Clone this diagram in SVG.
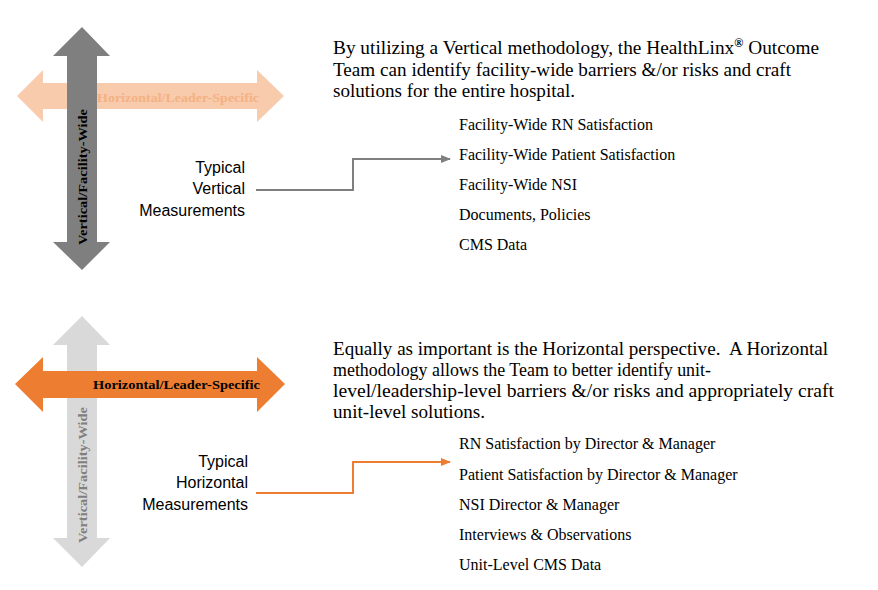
<svg xmlns="http://www.w3.org/2000/svg" width="878" height="590" viewBox="0 0 878 590">
<style>
.para{font-family:"Liberation Serif","Times New Roman",serif;font-size:19px;fill:#000;white-space:pre}
.item{font-family:"Liberation Serif","Times New Roman",serif;font-size:16px;fill:#000}
.lab{font-family:"Liberation Sans",Arial,sans-serif;font-size:16px;fill:#000;text-anchor:end}
.arrlab{font-family:"Liberation Serif","Times New Roman",serif;font-size:13px;font-weight:bold}
.conn{fill:none;stroke-width:2}
</style>
<defs>
<marker id="ag" markerWidth="10" markerHeight="10" refX="9" refY="5" orient="auto" markerUnits="userSpaceOnUse"><path d="M0,1 L10,5 L0,9 z" fill="#7f7f7f"/></marker>
<marker id="ao" markerWidth="10" markerHeight="10" refX="9" refY="5" orient="auto" markerUnits="userSpaceOnUse"><path d="M0,1 L10,5 L0,9 z" fill="#ed7d31"/></marker>
</defs>
<rect width="878" height="590" fill="#fff"/>
<g id="top-cross">
<polygon points="17,96 43,70 43,83 257,83 257,70 284,96 257,122 257,109 43,109 43,122" fill="#f8cbad"/>
<text class="arrlab" x="97" y="102" fill="#f4b183" textLength="162" lengthAdjust="spacingAndGlyphs">Horizontal/Leader-Specific</text>
<polygon points="82,27 110,56 97,56 97,242 110,242 82,270 53,242 67,242 67,56 53,56" fill="#7f7f7f"/>
<text class="arrlab" transform="translate(87,177) rotate(-90)" text-anchor="middle" fill="#000" textLength="136" lengthAdjust="spacingAndGlyphs">Vertical/Facility-Wide</text>
</g>
<g id="top-label">
<text class="lab" x="245" y="173">Typical</text>
<text class="lab" x="245" y="194">Vertical</text>
<text class="lab" x="245" y="216">Measurements</text>
</g>
<g id="top-para">
<text class="para" x="333" y="54" textLength="486" lengthAdjust="spacingAndGlyphs">By utilizing a Vertical methodology, the HealthLinx<tspan font-size="12" font-weight="bold" dy="-7">®</tspan><tspan dy="7"> Outcome</tspan></text>
<text class="para" x="333" y="76" textLength="458" lengthAdjust="spacingAndGlyphs">Team can identify facility-wide barriers &amp;/or risks and craft</text>
<text class="para" x="333" y="97" textLength="242" lengthAdjust="spacingAndGlyphs">solutions for the entire hospital.</text>
</g>
<g id="top-list">
<text class="item" x="459" y="130">Facility-Wide RN Satisfaction</text>
<text class="item" x="459" y="160">Facility-Wide Patient Satisfaction</text>
<text class="item" x="459" y="190">Facility-Wide NSI</text>
<text class="item" x="459" y="220">Documents, Policies</text>
<text class="item" x="459" y="250">CMS Data</text>
</g>
<g id="bottom-cross">
<polygon points="82,316 110,345 97,345 97,538 110,538 82,567 53,538 67,538 67,345 53,345" fill="#d9d9d9"/>
<text class="arrlab" transform="translate(87,475) rotate(-90)" text-anchor="middle" fill="#7f7f7f" textLength="136" lengthAdjust="spacingAndGlyphs">Vertical/Facility-Wide</text>
<polygon points="15,384 43,357 43,371 257,371 257,357 285,384 257,412 257,398 43,398 43,412" fill="#ed7d31"/>
<text class="arrlab" x="93" y="389" fill="#000" textLength="167" lengthAdjust="spacingAndGlyphs">Horizontal/Leader-Specific</text>
</g>
<g id="bottom-label">
<text class="lab" x="248" y="467">Typical</text>
<text class="lab" x="248" y="488">Horizontal</text>
<text class="lab" x="248" y="510">Measurements</text>
</g>
<g id="bottom-para">
<text class="para" x="333" y="355" textLength="495" lengthAdjust="spacingAndGlyphs">Equally as important is the Horizontal perspective.  A Horizontal</text>
<text class="para" x="333" y="376" textLength="378" lengthAdjust="spacingAndGlyphs">methodology allows the Team to better identify unit-</text>
<text class="para" x="333" y="397" textLength="501" lengthAdjust="spacingAndGlyphs">level/leadership-level barriers &amp;/or risks and appropriately craft</text>
<text class="para" x="333" y="418" textLength="152" lengthAdjust="spacingAndGlyphs">unit-level solutions.</text>
</g>
<g id="bottom-list">
<text class="item" x="459" y="449">RN Satisfaction by Director &amp; Manager</text>
<text class="item" x="459" y="480">Patient Satisfaction by Director &amp; Manager</text>
<text class="item" x="459" y="510">NSI Director &amp; Manager</text>
<text class="item" x="459" y="540">Interviews &amp; Observations</text>
<text class="item" x="459" y="570">Unit-Level CMS Data</text>
</g>
<g id="connectors">
<path class="conn" d="M256,190 H353 V159 H450" stroke="#7f7f7f" marker-end="url(#ag)"/>
<path class="conn" d="M256,493 H353 V462 H450" stroke="#ed7d31" marker-end="url(#ao)"/>
</g>
</svg>
